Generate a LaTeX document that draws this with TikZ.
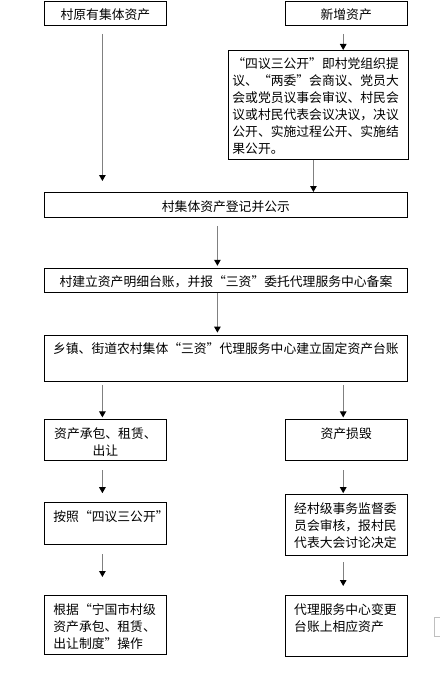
\documentclass[tikz,border=0pt]{standalone}
\usepackage{fontspec}
\newfontfamily\cjk{Noto Sans CJK SC}
\usetikzlibrary{positioning, arrows.meta}

\begin{document}
\begin{tikzpicture}[
        x=1pt, y=-1pt,
        every node/.style={draw, line width=0.8pt, inner xsep=9pt, inner ysep=4pt, text height=14.6pt,
          font=\cjk\fontsize{12.8}{17}\selectfont},
        narrow/.style={text width=104pt},
        wide/.style={text width=351pt, inner xsep=6pt, align=center},
        arrow/.style={-{Triangle[length=6pt, width=6.5pt, color=black]}, line width=1.1pt, draw=black!50}
      ]
    \useasboundingbox (0,0) rectangle (441,674);

    % top row
    \node (orig) [narrow, align=center, text depth=1.4pt, anchor=north west] at (44,1) {村原有集体资产};
    \node (newasset) [narrow, align=center, text depth=1.4pt, right=118pt of orig] {新增资产};
    \node (proposal) [text width=172pt, inner xsep=4pt, align=left, text depth=86.4pt, anchor=north west] at (228,50)
      {“四议三公开”即村党组织提\\议、“两委”会商议、党员大\\会或党员议事会审议、村民会\\议或村民代表会议决议，决议\\公开、实施过程公开、实施结\\果公开。};

    % middle column
    \node (regist) [wide, text depth=2.4pt, anchor=north west] at (44,192) {村集体资产登记并公示};
    \node (ledger) [wide, text depth=1.4pt, below=50pt of regist] {村建立资产明细台账，并报“三资”委托代理服务中心备案};
    \node (center) [wide, text depth=23.4pt, below=42pt of ledger] {乡镇、街道农村集体“三资”代理服务中心建立固定资产台账};

    % left branch
    \node (lease) [narrow, align=center, text depth=18.4pt, below=38pt of center.south west, anchor=north west] {资产承包、租赁、\\出让};
    \node (follow) [narrow, align=left, text depth=19.4pt, below=41pt of lease] {按照“四议三公开”};
    \node (operate) [narrow, align=left, text depth=36.4pt, below=50pt of follow] {根据“宁国市村级\\资产承包、租赁、\\出让制度”操作};

    % right branch
    \node (damage) [narrow, align=center, text depth=18.4pt, right=118pt of lease] {资产损毁};
    \node (review) [narrow, align=left, text depth=38.4pt, below=33pt of damage] {经村级事务监督委\\员会审核，报村民\\代表大会讨论决定};
    \node (change) [narrow, align=left, text depth=38.4pt, below=39pt of review] {代理服务中心变更\\台账上相应资产};

    \draw[arrow, shorten <=8pt, shorten >=11pt] ([xshift=-3pt]orig.south) -- ([xshift=-3pt]orig.south |- regist.north);
    \draw[arrow, shorten <=8pt] ([xshift=-3pt]newasset.south) -- ([xshift=-3pt]newasset.south |- proposal.north);
    \draw[arrow] ([xshift=-5pt]proposal.south) -- ([xshift=-5pt]proposal.south |- regist.north);
    \draw[arrow, shorten <=8pt, shorten >=2pt] ([xshift=-8.5pt]regist.south) -- ([xshift=-8.5pt]ledger.north);
    \draw[arrow, shorten >=2pt] ([xshift=-8.5pt]ledger.south) -- ([xshift=-8.5pt]center.north);
    \draw[arrow, shorten <=4pt, shorten >=2pt] ([xshift=-3pt]lease.north |- center.south) -- ([xshift=-3pt]lease.north);
    \draw[arrow, shorten <=4pt, shorten >=2pt] ([xshift=-3pt]damage.north |- center.south) -- ([xshift=-3pt]damage.north);
    \draw[arrow, shorten <=9pt, shorten >=9pt] ([xshift=-3pt]lease.south) -- ([xshift=-3pt]follow.north);
    \draw[arrow, shorten <=9pt, shorten >=1pt] ([xshift=-3pt]damage.south) -- ([xshift=-3pt]review.north);
    \draw[arrow, shorten <=9pt, shorten >=18pt] ([xshift=-3pt]follow.south) -- ([xshift=-3pt]operate.north);
    \draw[arrow, shorten <=6pt, shorten >=9pt] ([xshift=-3pt]review.south) -- ([xshift=-3pt]change.north);

    % faint edge at the right margin
    \draw[black!25, line width=0.8pt] (440,617) -- (434,617) -- (434,636) -- (440,636);

    \end{tikzpicture}
\end{document}
